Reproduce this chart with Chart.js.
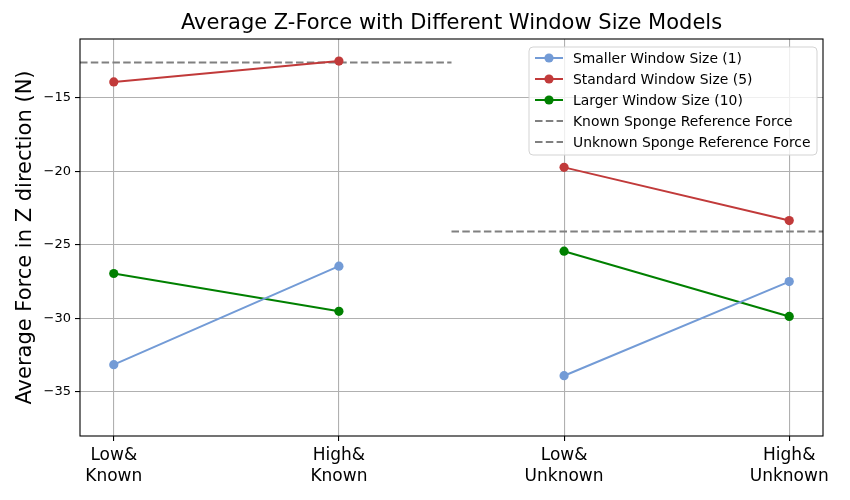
<!DOCTYPE html>
<html>
<head>
<meta charset="utf-8">
<script src="https://cdn.jsdelivr.net/npm/chart.js@4.4.1/dist/chart.umd.min.js"></script>
<style>
  html, body { margin: 0; padding: 0; background: #fff; }
  #wrap { width: 850px; height: 500px; }
</style>
</head>
<body>
<div id="wrap"><canvas id="chart" width="850" height="500"></canvas></div>
<script>
// data
const categories = [["Low&", "Known"], ["High&", "Known"], ["Low&", "Unknown"], ["High&", "Unknown"]];
const smallerWindow = [-33.15, -26.45, -33.9, -27.5];
const standardWindow = [-13.92, -12.5, -19.73, -23.35];
const largerWindow = [-26.95, -29.52, -25.43, -29.87];
const knownRef = -12.6;
const unknownRef = -24.1;
const yTicks = [-35, -30, -25, -20, -15];

const xMin = -0.15, xMax = 3.15, groupBreak = 1.5;
const yMin = -38, yMax = -11;

const FONT = "'DejaVu Sans', sans-serif";

// known pair and unknown pair are drawn as separate segments
function pairs(values) {
    return [
        { x: 0, y: values[0] }, { x: 1, y: values[1] },
        { x: groupBreak, y: null },
        { x: 2, y: values[2] }, { x: 3, y: values[3] }
    ];
}

function lineSet(label, values, color) {
    return {
        label: label,
        data: pairs(values),
        borderColor: color,
        backgroundColor: color,
        pointBackgroundColor: color,
        pointBorderWidth: 0,
        pointRadius: 4.6,
        borderWidth: 2,
        spanGaps: false
    };
}

function refSet(label, y, from, to) {
    return {
        label: label,
        data: [{ x: from, y: y }, { x: to, y: y }],
        borderColor: "#808080",
        backgroundColor: "#808080",
        borderDash: [7.5, 3.3],
        borderWidth: 2,
        pointRadius: 0
    };
}

const frameAndText = {
    id: "frameAndText",
    afterDraw(chart) {
        const ctx = chart.ctx, a = chart.chartArea;
        ctx.save();
        ctx.strokeStyle = "#000";
        ctx.lineWidth = 1.1;
        ctx.strokeRect(a.left, a.top, a.right - a.left, a.bottom - a.top);

        ctx.fillStyle = "#000";
        ctx.font = "21px " + FONT;
        ctx.textAlign = "center";
        ctx.textBaseline = "middle";
        ctx.fillText("Average Z-Force with Different Window Size Models", (a.left + a.right) / 2, 24);

        // legend inside the axes, top right
        const bx = a.right - 294, by = a.top + 8, bw = 288, bh = 108;
        ctx.fillStyle = "rgba(255,255,255,0.8)";
        ctx.strokeStyle = "#d3d3d3";
        ctx.lineWidth = 1;
        ctx.beginPath();
        ctx.roundRect(bx, by, bw, bh, 4);
        ctx.fill();
        ctx.stroke();

        ctx.font = "13.9px " + FONT;
        ctx.textAlign = "left";
        chart.data.datasets.forEach((ds, i) => {
            const cy = by + 11 + i * 21;
            ctx.strokeStyle = ds.borderColor;
            ctx.lineWidth = 2;
            ctx.setLineDash(ds.borderDash || []);
            ctx.beginPath();
            ctx.moveTo(bx + 6, cy);
            ctx.lineTo(bx + 34, cy);
            ctx.stroke();
            ctx.setLineDash([]);
            if (ds.pointRadius > 0) {
                ctx.fillStyle = ds.borderColor;
                ctx.beginPath();
                ctx.arc(bx + 20, cy, ds.pointRadius, 0, Math.PI * 2);
                ctx.fill();
            }
            ctx.fillStyle = "#000";
            ctx.fillText(ds.label, bx + 44, cy + 1);
        });
        ctx.restore();
    }
};

new Chart(document.getElementById("chart"), {
    type: "line",
    data: {
        datasets: [
            lineSet("Smaller Window Size (1)", smallerWindow, "#739bd6"),
            lineSet("Standard Window Size (5)", standardWindow, "#c13a3a"),
            lineSet("Larger Window Size (10)", largerWindow, "#008000"),
            refSet("Known Sponge Reference Force", knownRef, xMin, groupBreak),
            refSet("Unknown Sponge Reference Force", unknownRef, groupBreak, xMax)
        ]
    },
    options: {
        responsive: false,
        animation: false,
        layout: { padding: { left: 0, right: 27, top: 39, bottom: 0 } },
        plugins: {
            legend: { display: false },
            title: { display: false },
            tooltip: { enabled: false }
        },
        scales: {
            x: {
                type: "linear",
                min: xMin,
                max: xMax,
                afterBuildTicks: (scale) => { scale.ticks = categories.map((c, i) => ({ value: i })); },
                afterFit: (scale) => { scale.height = 64; },
                ticks: {
                    callback: (v) => categories[v],
                    color: "#000",
                    font: { family: FONT, size: 17, lineHeight: 1.25 },
                    padding: 4,
                    maxRotation: 0
                },
                grid: { color: "#b0b0b0", lineWidth: 1.1, tickLength: 5, tickColor: "#000" },
                border: { display: false }
            },
            y: {
                min: yMin,
                max: yMax,
                afterBuildTicks: (scale) => { scale.ticks = yTicks.map(v => ({ value: v })); },
                afterFit: (scale) => { scale.width = 80; },
                ticks: {
                    callback: (v) => String(v).replace("-", "\u2212"),
                    color: "#000",
                    font: { family: FONT, size: 13 },
                    padding: 4
                },
                grid: { color: "#b0b0b0", lineWidth: 1.1, tickLength: 5, tickColor: "#000" },
                border: { display: false },
                title: {
                    display: true,
                    text: "Average Force in Z direction (N)",
                    color: "#000",
                    font: { family: FONT, size: 21 },
                    padding: { top: 13, bottom: 0 }
                }
            }
        }
    },
    plugins: [frameAndText]
});
</script>
</body>
</html>
